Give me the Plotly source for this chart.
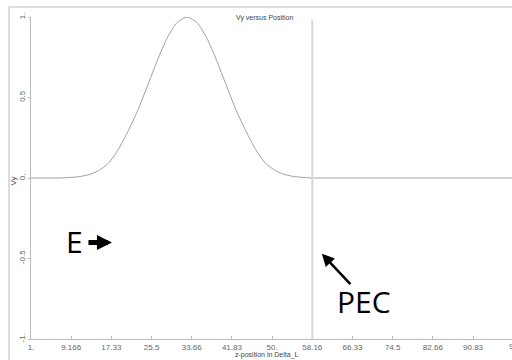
import plotly.graph_objects as go

# Data
z_pos = [1, 4.7, 6.7, 8.7, 10.7, 12.7, 14.7, 16.7, 18.7, 20.7, 22.7, 24.7, 26.7, 28.7,
         30.7, 32.7, 34.7, 36.7, 38.7, 40.7, 42.7, 44.7, 46.7, 48.7, 50.7, 52.7, 54.7,
         56.7, 58.16]
vy = [0.0, 0.0, 0.0, 0.003, 0.008, 0.02, 0.045, 0.09, 0.175, 0.29, 0.42, 0.575, 0.732,
      0.871, 0.966, 1.0, 0.966, 0.871, 0.732, 0.575, 0.42, 0.29, 0.175, 0.09, 0.045,
      0.02, 0.008, 0.003, 0.0]
pec_z = [58.16, 110]
pec_vy = [0.0, 0.0]
pec_pos = 58.16
x_ticks = [1, 9.166, 17.33, 25.5, 33.66, 41.83, 50, 58.16, 66.33, 74.5, 82.66, 90.83]
x_tick_text = ["1.", "9.166", "17.33", "25.5", "33.66", "41.83", "50.", "58.16",
               "66.33", "74.5", "82.66", "90.83"]
y_ticks = [-1, -0.5, 0, 0.5, 1]
y_tick_text = ["-1.", "-0.5", "0.", "0.5", "1."]

fig = go.Figure()
fig.add_trace(go.Scatter(x=z_pos, y=vy, mode="lines", line=dict(color="#a0a0a0", width=1,
                                                                 shape="spline", smoothing=0.6),
                         showlegend=False, hoverinfo="skip"))
fig.add_trace(go.Scatter(x=pec_z, y=pec_vy, mode="lines", line=dict(color="#d3d3d3", width=2),
                         showlegend=False, hoverinfo="skip"))

tickfont = dict(family="Liberation Sans, Arial", size=8, color="#666666")
fig.update_layout(
    width=512, height=360,
    margin=dict(l=31, r=0, t=17, b=21),
    plot_bgcolor="white", paper_bgcolor="white",
    xaxis=dict(range=[1, 98.75], tickvals=x_ticks, ticktext=x_tick_text, showgrid=False,
               zeroline=False, showline=True, linecolor="#bbbbbb", linewidth=1,
               ticks="inside", ticklen=3, tickcolor="#bbbbbb", tickfont=tickfont,
               ticklabelstandoff=0),
    yaxis=dict(range=[-1, 1], tickvals=y_ticks, ticktext=y_tick_text, showgrid=False,
               zeroline=False, showline=True, linecolor="#bbbbbb", linewidth=1,
               ticks="outside", ticklen=2, tickcolor="#bbbbbb", tickfont=tickfont,
               tickangle=-90, ticklabelstandoff=0),
    shapes=[
        dict(type="line", xref="x", yref="paper", x0=pec_pos, x1=pec_pos, y0=0, y1=0.99,
             line=dict(color="#d6d6d6", width=2)),
        dict(type="line", xref="paper", yref="paper", x0=-0.0457, x1=1.05, y0=1.031,
             y1=1.031, line=dict(color="#dddddd", width=2)),
        dict(type="line", xref="paper", yref="paper", x0=-0.0457, x1=-0.0457, y0=-0.08,
             y1=1.031, line=dict(color="#dddddd", width=2)),
    ],
)

fig.add_annotation(text="Vy versus Position", xref="paper", yref="paper", x=0.486, y=1.017,
                   xanchor="center", showarrow=False,
                   font=dict(family="Liberation Sans, Arial", size=7, color="#444444"))
fig.add_annotation(text="Vy", xref="paper", yref="paper", x=-0.037, y=0.49, textangle=-90,
                   xanchor="center", yanchor="middle", showarrow=False,
                   font=dict(family="Liberation Sans, Arial", size=8, color="#444444"))
fig.add_annotation(text="z-position in Delta_L", xref="paper", yref="paper", x=0.49,
                   y=-0.0655, xanchor="center", yanchor="bottom", showarrow=False,
                   borderpad=0,
                   font=dict(family="Liberation Sans, Arial", size=7, color="#444444"))
fig.add_annotation(text="99", xref="paper", yref="paper", x=1.003, y=-0.003,
                   xanchor="center", yanchor="top", showarrow=False, font=tickfont)
fig.add_annotation(text="E", xref="x", yref="y", x=9.9, y=-0.395, showarrow=False,
                   font=dict(family="Open Sans", size=30, color="black"))
fig.add_annotation(text="", xref="x", yref="y", x=17.45, y=-0.40, ax=-25, ay=0,
                   showarrow=True, arrowhead=2, arrowsize=0.6, arrowwidth=5,
                   arrowcolor="black")
fig.add_annotation(text="PEC", xref="x", yref="y", x=68.6, y=-0.77, showarrow=False,
                   font=dict(family="Open Sans", size=30, color="black"))
fig.add_annotation(text="", xref="x", yref="y", x=60.1, y=-0.47, ax=30, ay=32,
                   showarrow=True, arrowhead=2, arrowsize=1.0, arrowwidth=2.5,
                   arrowcolor="black")

fig.write_html("out.html")
